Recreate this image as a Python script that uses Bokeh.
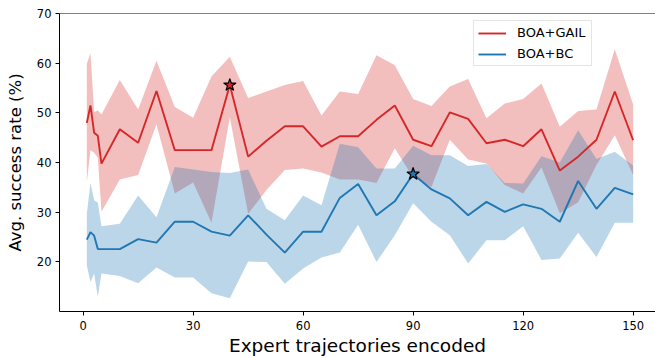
from bokeh.plotting import figure
from bokeh.models import Range1d, Span, Legend, LegendItem, FixedTicker
from bokeh.embed import file_html
from bokeh.resources import INLINE

# Number of expert trajectories encoded
x = [1, 2, 3, 4, 5, 10, 15, 20, 25, 30, 35, 40, 45, 50, 55, 60, 65, 70, 75, 80,
     85, 90, 95, 100, 105, 110, 115, 120, 125, 130, 135, 140, 145, 150]

# BOA+GAIL
gail_mean = [48.0, 51.5, 46.0, 45.4, 39.8, 46.7, 44.0, 54.4, 42.5, 42.5, 42.5, 55.6,
             41.2, 44.4, 47.3, 47.3, 43.2, 45.3, 45.3, 48.6, 51.5, 44.6, 43.3, 50.1,
             48.8, 43.9, 44.6, 43.3, 46.7, 38.4, 41.2, 44.6, 54.3, 44.5]
gail_upper = [59.9, 62.0, 50.2, 50.5, 49.7, 56.6, 50.7, 60.5, 51.2, 49.0, 57.3, 61.3,
              53.0, 54.3, 55.6, 56.4, 49.5, 54.3, 53.8, 61.6, 59.6, 52.8, 51.4, 55.3,
              56.8, 48.9, 51.9, 52.8, 55.9, 47.2, 50.4, 50.7, 62.8, 51.7]
gail_lower = [36.1, 42.5, 42.0, 41.0, 30.1, 36.6, 37.5, 47.7, 33.8, 36.0, 27.9, 49.1,
              29.7, 34.5, 38.5, 38.8, 38.0, 36.6, 36.6, 35.9, 42.9, 37.0, 35.1, 44.6,
              40.6, 39.8, 35.5, 33.8, 39.0, 29.8, 32.0, 39.5, 45.5, 37.5]

# BOA+BC
bc_mean = [24.5, 26.0, 25.3, 22.6, 22.6, 22.6, 24.6, 23.9, 28.1, 28.1, 26.1, 25.3,
           29.4, 25.5, 21.9, 26.1, 26.1, 32.9, 35.7, 29.4, 32.2, 37.7, 34.6, 32.8,
           29.4, 32.1, 30.1, 31.6, 30.7, 28.1, 36.3, 30.7, 34.9, 33.6]
bc_upper = [29.7, 35.9, 32.4, 31.9, 27.2, 27.7, 33.4, 29.0, 39.1, 38.6, 38.1, 37.9,
            38.6, 30.7, 28.4, 33.4, 31.4, 43.8, 43.1, 38.8, 38.8, 43.4, 41.5, 41.5,
            39.3, 39.7, 35.9, 35.8, 41.3, 40.0, 46.5, 40.7, 42.2, 39.4]
bc_lower = [19.3, 16.0, 17.7, 13.0, 17.7, 17.2, 15.7, 18.9, 16.9, 16.9, 13.7, 12.7,
            20.1, 20.0, 15.6, 18.7, 20.9, 21.9, 27.5, 20.0, 25.4, 31.8, 28.1, 25.4,
            19.7, 24.4, 24.4, 27.2, 20.4, 20.7, 25.9, 21.0, 27.9, 27.9]

# Best points (marked with stars)
gail_best_x = 40
bc_best_x = 90

x_ticks = [0, 30, 60, 90, 120, 150]
y_ticks = [20, 30, 40, 50, 60, 70]

RED = "#d62728"
BLUE = "#1f77b4"
FONT = "DejaVu Sans"

p = figure(width=655, height=358, output_backend="svg", toolbar_location=None,
           x_range=Range1d(-6.45, 156.1), y_range=Range1d(10.04, 70),
           min_border_left=59, min_border_right=0, min_border_top=13,
           min_border_bottom=47)
p.outline_line_color = None
p.xgrid.visible = False
p.ygrid.visible = False
p.background_fill_color = "white"
p.border_fill_color = "white"

p.varea(x=x, y1=gail_lower, y2=gail_upper, fill_color=RED, fill_alpha=0.3)
p.varea(x=x, y1=bc_lower, y2=bc_upper, fill_color=BLUE, fill_alpha=0.3)
gl = p.line(x, gail_mean, line_color=RED, line_width=1.9)
bl = p.line(x, bc_mean, line_color=BLUE, line_width=1.9)

gi = x.index(gail_best_x)
bi = x.index(bc_best_x)
p.scatter([x[gi]], [gail_mean[gi]], marker="star", size=13, fill_color=RED,
          line_color="black", line_width=1.2)
p.scatter([x[bi]], [bc_mean[bi]], marker="star", size=13, fill_color=BLUE,
          line_color="black", line_width=1.2)

p.add_layout(Span(location=70, dimension="width", line_color="black", line_width=1.2))

for ax in (p.xaxis, p.yaxis):
    ax.axis_line_color = "black"
    ax.axis_line_width = 1
    ax.major_tick_line_color = "black"
    ax.major_tick_out = 4
    ax.major_tick_in = 0
    ax.minor_tick_line_color = None
    ax.major_label_text_font = FONT
    ax.major_label_text_font_size = "11.5px"
    ax.major_label_text_color = "black"
    ax.axis_label_text_font = FONT
    ax.axis_label_text_font_style = "normal"
    ax.axis_label_text_color = "black"

p.xaxis.ticker = FixedTicker(ticks=x_ticks)
p.yaxis.ticker = FixedTicker(ticks=y_ticks)
p.xaxis.axis_label = "Expert trajectories encoded"
p.yaxis.axis_label = "Avg. success rate (%)"
p.xaxis.axis_label_text_font_size = "18.5px"
p.yaxis.axis_label_text_font_size = "16.5px"
p.xaxis.major_label_standoff = 5
p.xaxis.axis_label_standoff = 2
p.yaxis.major_label_standoff = 4
p.yaxis.axis_label_standoff = 9

legend = Legend(items=[LegendItem(label="BOA+GAIL", renderers=[gl]),
                       LegendItem(label="BOA+BC", renderers=[bl])],
                location=(414, 245))
legend.label_text_font = FONT
legend.label_text_font_size = "13px"
legend.label_text_color = "black"
legend.glyph_width = 28
legend.glyph_height = 14
legend.label_height = 14
legend.label_width = 70
legend.label_standoff = 11
legend.spacing = 6
legend.padding = 4
legend.margin = 0
legend.border_line_color = "#cccccc"
legend.background_fill_alpha = 0.8
p.add_layout(legend)

open("out.html", "w").write(file_html(p, INLINE))
